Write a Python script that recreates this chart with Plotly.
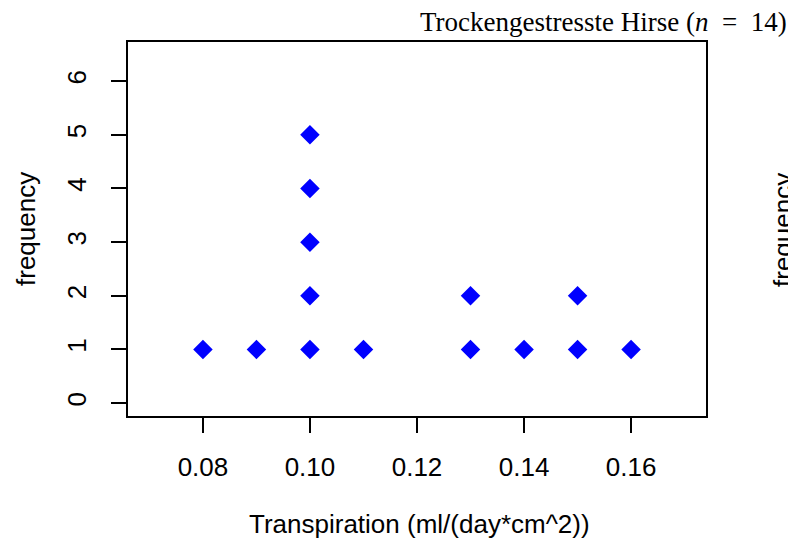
import plotly.graph_objects as go

transpiration = [0.08, 0.09, 0.10, 0.10, 0.10, 0.10, 0.10, 0.11, 0.13, 0.13, 0.14, 0.15, 0.15, 0.16]
frequency = [1, 1, 1, 2, 3, 4, 5, 1, 1, 2, 1, 1, 2, 1]
x_ticks = [0.08, 0.10, 0.12, 0.14, 0.16]
x_ticklabels = ["0.08", "0.10", "0.12", "0.14", "0.16"]
y_ticks = [0, 1, 2, 3, 4, 5, 6]

# the page body has an 8px margin, so the figure is laid out 8px smaller
OFF = 8
W, H = 796 - OFF, 542 - OFF
L, T = 128 - OFF, 42 - OFF
R = W - (706 - OFF)
B = H - (416 - OFF)
PW, PH = W - L - R, H - T - B


def px(wx):
    return (wx - OFF - L) / PW


def py(wy):
    return 1 - (wy - OFF - T) / PH


fig = go.Figure()
fig.add_trace(go.Scatter(
    x=transpiration, y=frequency, mode="markers",
    marker=dict(symbol="diamond", size=15, color="#0000FF", line=dict(width=0)),
    showlegend=False,
))

font = dict(family="Liberation Sans, Arial, sans-serif", size=26, color="black")

fig.update_layout(
    width=W, height=H,
    margin=dict(l=L, r=R, t=T, b=B),
    paper_bgcolor="white", plot_bgcolor="white",
    font=font,
    xaxis=dict(
        range=[0.066, 0.174], tickvals=x_ticks, ticktext=x_ticklabels,
        showgrid=False, zeroline=False, showline=True, linecolor="black", linewidth=1.5,
        mirror=True, ticks="outside", ticklen=15, tickwidth=1.5, tickcolor="black",
        ticklabelstandoff=12, tickfont=font,
    ),
    yaxis=dict(
        range=[-0.24, 6.73], tickvals=y_ticks,
        showgrid=False, zeroline=False, showline=True, linecolor="black", linewidth=1.5,
        mirror=True, ticks="outside", ticklen=15, tickwidth=1.5, tickcolor="black",
        tickangle=-90, ticklabelstandoff=15, tickfont=font,
    ),
)

fig.add_annotation(
    text="Transpiration (ml/(day*cm^2))",
    xref="paper", yref="paper", x=px(419), y=py(524),
    xanchor="center", yanchor="middle", showarrow=False, font=font,
)
fig.add_annotation(
    text="frequency",
    xref="paper", yref="paper", x=px(26), y=py(229),
    xanchor="center", yanchor="middle", showarrow=False, textangle=-90, font=font,
)
fig.add_annotation(
    text="Trockengestresste Hirse (<i>n</i>&nbsp; =&nbsp; 14)",
    xref="paper", yref="paper", x=px(789), y=py(22),
    xanchor="right", yanchor="middle", showarrow=False,
    font=dict(family="Liberation Serif, DejaVu Serif, serif", size=27, color="black"),
)
fig.add_annotation(
    text="frequency",
    xref="paper", yref="paper", x=px(783), y=py(230),
    xanchor="center", yanchor="middle", showarrow=False, textangle=-90, font=font,
)

fig.write_html("out.html")
